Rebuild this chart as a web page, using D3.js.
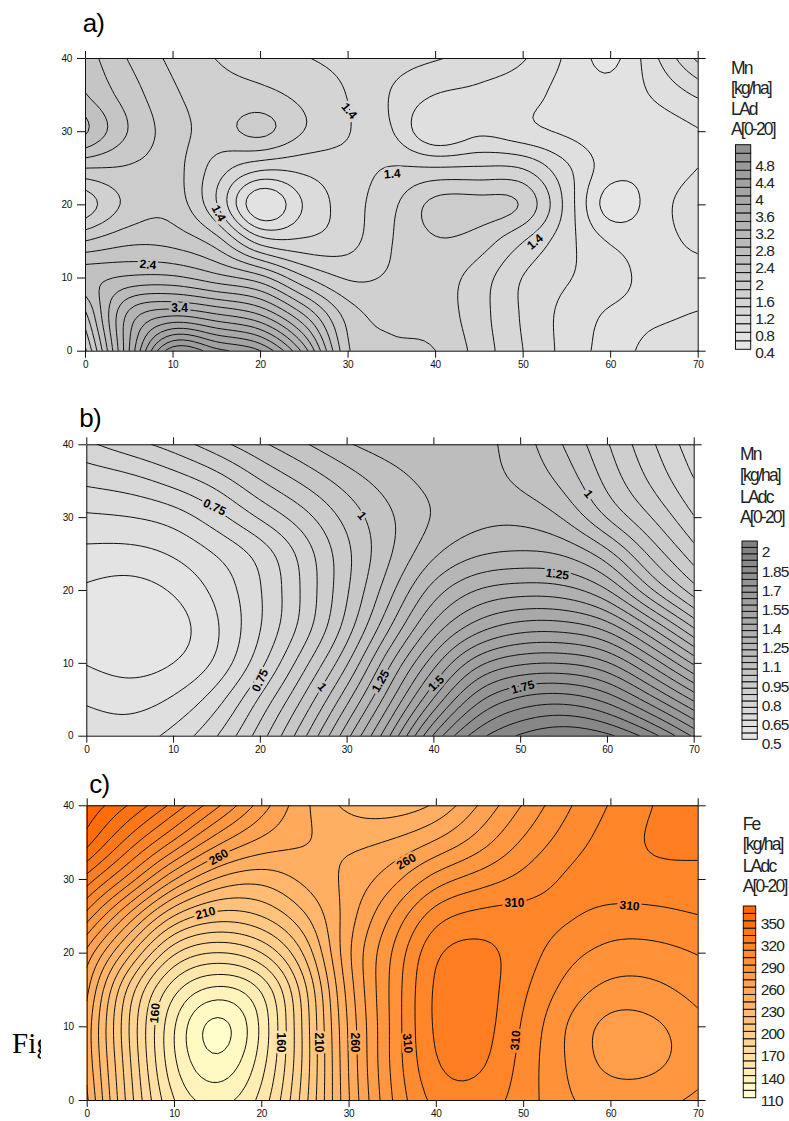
<!DOCTYPE html>
<html><head><meta charset="utf-8">
<script src="https://cdn.jsdelivr.net/npm/d3@7/dist/d3.min.js"></script>
<style>html,body{margin:0;padding:0;background:#fff}svg{display:block}text{font-family:"Liberation Sans",Arial,sans-serif}</style>
</head><body><svg id="c" width="789" height="1121"></svg>
<script>
// sampling positions of the value tables (x every 5, y every 5)
const xSamples=[0,5,10,15,20,25,30,35,40,45,50,55,60,65,70];
const ySamples=[0,5,10,15,20,25,30,35,40];
const axisXTicks=[0,10,20,30,40,50,60,70];
const axisYTicks=[0,10,20,30,40];

// a) Mn LAd, rows y=0..40
const mnLAd=[
[1.75,3.40,4.85,4.45,4.25,3.35,1.95,1.85,1.82,1.52,1.20,0.93,0.72,0.87,0.92],
[2.15,3.35,3.55,3.40,3.20,2.60,1.90,1.72,1.72,1.48,1.17,0.93,0.76,0.76,0.81],
[2.58,2.62,2.62,2.45,2.30,1.80,1.55,1.62,1.70,1.50,1.17,1.02,0.90,0.72,0.70],
[2.00,2.15,2.12,1.92,1.25,1.20,1.30,1.60,1.80,1.72,1.40,1.07,0.78,0.72,0.86],
[1.40,1.85,1.95,1.40,0.42,1.00,1.30,1.55,1.92,1.92,1.87,1.15,0.40,0.70,0.95],
[2.00,1.98,1.90,1.50,1.25,1.25,1.32,1.42,1.42,1.42,1.42,1.05,0.70,0.66,0.79],
[2.70,2.20,1.90,1.72,1.95,1.62,1.42,1.22,0.72,0.95,0.82,0.75,0.68,0.68,0.77],
[2.40,2.10,1.83,1.68,1.65,1.55,1.40,1.18,0.99,0.95,0.88,0.72,0.66,0.82,1.02],
[2.30,1.98,1.75,1.59,1.50,1.41,1.34,1.28,1.22,1.13,1.03,0.77,0.50,0.95,1.45]];
// b) Mn LAdc
const mnLAdc=[
[.63,.62,.66,.74,.87,1.03,1.23,1.44,1.72,1.89,1.96,2.00,1.97,1.88,1.74],
[.595,.575,.60,.67,.81,.95,1.13,1.33,1.55,1.75,1.825,1.84,1.79,1.67,1.54],
[.545,.52,.54,.59,.72,.88,1.03,1.25,1.43,1.60,1.645,1.65,1.62,1.49,1.34],
[.51,.48,.51,.585,.69,.805,.96,1.14,1.32,1.42,1.475,1.475,1.44,1.30,1.14],
[.54,.52,.55,.61,.69,.805,.94,1.08,1.23,1.31,1.325,1.32,1.26,1.09,.96],
[.585,.58,.60,.645,.70,.81,.935,1.04,1.14,1.19,1.20,1.20,1.13,.98,.87],
[.64,.645,.66,.73,.81,.875,.965,1.04,1.10,1.13,1.14,1.10,.98,.90,.80],
[.71,.725,.77,.815,.90,.96,1.02,1.075,1.12,1.12,1.09,1.04,.93,.84,.75],
[.79,.83,.87,.93,.99,1.043,1.097,1.13,1.14,1.12,1.08,1.0,.905,.81,.72]];
// c) Fe LAdc
const feLAdc=[
[252,192,146,133,150,195,251,292,316,316,306,290,286,286,292],
[247,190,137,116,142,192,253,294,323,325,306,289,274,276,285],
[245,186,137,104,138,193,254,293,326,327,309,288,273,276,286],
[252,190,148,133,143,194,258,293,326,327,312,296,286,287,294],
[265,222,176,167,177,210,262,291,323,325,316,303,296,296,300],
[296,255,216,204,210,228,255,282,309,315,315,313,306,307,310],
[326,297,260,236,231,244,252,265,286,295,303,313,317,317,318],
[356,325,300,272,257,251,248,251,260,274,292,305,315,323,322],
[368,349,327,302,275,251,236,233,240,261,281,299,311,321,325]];

const legendTextA=["Mn","[kg/ha]","LAd","A[0-20]"];
const legendTextB=["Mn","[kg/ha]","LAdc","A[0-20]"];
const legendTextC=["Fe","[kg/ha]","LAdc","A[0-20]"];
// contour labels: text, x, y (data units), angle
const labelsA=[["1.4",30.2,32.8,50],["1.4",35.1,24.2,-5],["1.4",15.3,18.8,62],["2.4",7.2,11.8,5],["3.4",10.8,5.8,0],["1.4",51.4,14.9,-40]];
const labelsB=[["0.75",14.8,31.4,25],["1",31.8,30.2,50],["0.75",20,7.6,-65],["1",27.2,6.7,50],["1.25",33.9,7.5,-60],["1",57.9,33.2,50],["1.25",54.3,22.2,8],["1.5",40.3,7.2,-45],["1.75",50.3,6.7,-15]];
const labelsC=[["260",15.1,33,-30],["260",36.6,32.4,-30],["210",13.6,25.4,-15],["160",7.8,11.8,-85],["160",22.3,7.8,90],["210",26.6,7.8,90],["260",30.8,7.8,90],["310",36.8,7.7,85],["310",49.1,8.1,-85],["310",49,26.7,0],["310",62.2,26.4,5]];

const UP=8;
function cr(p0,p1,p2,p3,t){return 0.5*((2*p1)+(-p0+p2)*t+(2*p0-5*p1+4*p2-p3)*t*t+(-p0+3*p1-3*p2+p3)*t*t*t);}
function curve(a,w){
  const basis=d3.interpolateBasis(a),n=a.length;
  const at=i=>i<0?2*a[0]-a[1]:i>=n?2*a[n-1]-a[n-2]:a[i];
  return s=>{const k=Math.min(Math.floor(s),n-2),t=s-k;
    return (1-w)*cr(at(k-1),at(k),at(k+1),at(k+2),t)+w*basis(s/(n-1));};
}
function resample(rows,w){
  const ny=rows.length,nx=rows[0].length,W=(nx-1)*UP+1,H=(ny-1)*UP+1;
  const fine=rows.map(r=>{const f=curve(r,w);return d3.range(W).map(i=>f(i/UP));});
  const out=new Array(W*H);
  for(let i=0;i<W;i++){const f=curve(fine.map(r=>r[i]),w);
    for(let j=0;j<H;j++)out[j*W+i]=f(j/UP);}
  return {values:out,W,H};
}
const svg=d3.select("#c");
svg.append("defs").append("clipPath").attr("id","figclip").append("rect").attr("x",0).attr("y",1000).attr("width",41).attr("height",100);
svg.append("text").attr("x",12).attr("y",1053).attr("clip-path","url(#figclip)").style("font-family","'Liberation Serif',serif").style("font-size","29px").text("Fig");

function panel(o){
  const x=d3.scaleLinear().domain([0,70]).range(o.px),y=d3.scaleLinear().domain([0,40]).range(o.py);
  const g=svg.append("g"),id="clip"+o.name;
  svg.select("defs").append("clipPath").attr("id",id).append("rect").attr("x",o.px[0]).attr("y",o.py[1]).attr("width",o.px[1]-o.px[0]).attr("height",o.py[0]-o.py[1]);
  const {values,W,H}=resample(o.data,o.smooth);
  const levels=d3.range(o.levels).map(i=>+(o.min+i*o.step).toFixed(4));
  const color=v=>o.color(Math.max(0,Math.min(1,(v-o.min)/(o.step*(o.levels-1)))));
  const fx=c=>x((c-0.5)/UP*5),fy=c=>y((c-0.5)/UP*5);
  const path=d3.geoPath(d3.geoTransform({point(a,b){this.stream.point(fx(a),fy(b));}}));
  const plot=g.append("g").attr("clip-path",`url(#${id})`);
  plot.append("rect").attr("x",o.px[0]).attr("y",o.py[1]).attr("width",o.px[1]-o.px[0]).attr("height",o.py[0]-o.py[1]).attr("fill",color(o.min));
  const cs=d3.contours().size([W,H]).thresholds(levels)(values);
  plot.selectAll("path").data(cs).join("path").attr("d",path).attr("fill",d=>color(d.value)).attr("stroke","#111").attr("stroke-width",1);
  // labels
  const band=(a,b)=>{const i=Math.round(a/5*UP),j=Math.round(b/5*UP);const v=values[j*W+i];return color(o.min+Math.floor((v-o.min)/o.step)*o.step);};
  plot.selectAll("text").data(o.labels).join("text")
    .attr("transform",d=>`translate(${x(d[1])},${y(d[2])}) rotate(${d[3]})`)
    .attr("text-anchor","middle").attr("dy","0.35em").style("font-size","12px").style("font-weight","bold")
    .attr("stroke",d=>band(d[1],d[2])).attr("stroke-width",5).attr("paint-order","stroke").attr("fill","#000").text(d=>d[0]);
  // axes
  const style=s=>{s.selectAll("path,line").attr("stroke","#111").attr("stroke-width",1);s.selectAll("text").style("font-size","10px").style("font-family","'Liberation Sans',Arial,sans-serif").style("letter-spacing","-0.3px").attr("fill","#111");};
  g.append("g").attr("transform",`translate(${o.px[0]},0)`).call(d3.axisLeft(y).tickValues(axisYTicks).tickSize(8).tickPadding(5).tickSizeOuter(0)).call(style);
  g.append("g").attr("transform",`translate(0,${o.py[0]})`).call(d3.axisBottom(x).tickValues(axisXTicks).tickSize(7).tickPadding(3).tickSizeOuter(0)).call(style);
  g.append("g").attr("transform",`translate(0,${o.py[1]})`).call(d3.axisTop(x).tickValues(axisXTicks).tickSize(7).tickFormat("").tickSizeOuter(0)).call(style);
  g.append("g").attr("transform",`translate(${o.px[1]},0)`).call(d3.axisRight(y).tickValues(axisYTicks).tickSize(8).tickFormat("").tickSizeOuter(0)).call(style);
  // title
  svg.append("text").attr("x",o.title[1]).attr("y",o.title[2]).style("font-size","26px").style("letter-spacing","-0.8px").text(o.title[0]);
  // legend text
  svg.append("g").selectAll("text").data(o.legendText).join("text").attr("x",o.legX).attr("y",(d,i)=>o.legY[i]).style("font-size","17.5px").style("letter-spacing","-1.8px").attr("fill","#222").text(d=>d);
  // colour bar
  const cb=d3.scaleLinear().domain([o.min,o.min+o.step*o.levels]).range(o.cbY);
  const bar=svg.append("g");
  bar.selectAll("rect").data(levels).join("rect").attr("x",o.cbX[0]).attr("width",o.cbX[1]-o.cbX[0])
    .attr("y",d=>cb(d+o.step)).attr("height",d=>cb(d)-cb(d+o.step)).attr("fill",d=>color(d)).attr("stroke","#111").attr("stroke-width",1);
  bar.selectAll("text").data(levels.filter((d,i)=>i%o.every==0&&d<=o.maxLabel)).join("text").attr("x",o.cbX[1]+o.cbPad).attr("y",d=>cb(d)+o.cbOff)
    .attr("dy","0.35em").style("font-size","15.5px").style("letter-spacing","-0.9px").attr("fill","#222").text(d=>d);
}
const gray=d3.interpolateRgb("#e6e6e6","#929292");
const gray2=d3.interpolateRgb("#e6e6e6","#808080");
panel({name:"a",data:mnLAd,smooth:.4,px:[85,697.7],py:[350.7,58],min:.4,step:.2,levels:24,every:2,maxLabel:4.8,color:gray,labels:labelsA,
  title:["a)",82.7,32],legendText:legendTextA,legX:731,legY:[74,94,115,135],cbX:[735.5,750.7],cbY:[349.3,144.7],cbPad:4.5,cbOff:3.5});
panel({name:"b",data:mnLAdc,smooth:.9,px:[86.3,693.7],py:[735.7,444.3],min:.5,step:.05,levels:31,every:3,maxLabel:2,color:gray2,labels:labelsB,
  title:["b)",79.3,426.7],legendText:legendTextB,legX:740,legY:[460,481,503,523],cbX:[742,757.3],cbY:[739.3,541],cbPad:4.5,cbOff:4.5});
panel({name:"c",data:feLAdc,smooth:.8,px:[86.7,697.7],py:[1100,805.3],min:110,step:10,levels:26,every:3,maxLabel:350,color:d3.interpolateRgb("#ffffcc","#ff6600"),labels:labelsC,
  title:["c)",89.3,793],legendText:legendTextC,legX:742.7,legY:[830,850,872,892],cbX:[743.3,755.7],cbY:[1097.7,906],cbPad:5,cbOff:2.5});
</script></body></html>
